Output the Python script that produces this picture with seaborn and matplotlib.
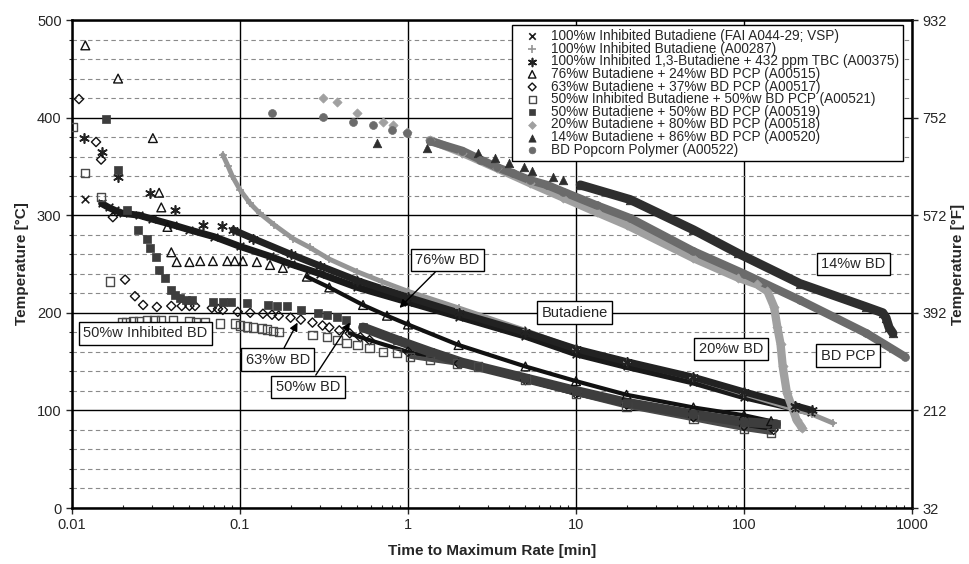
import matplotlib
matplotlib.use("Agg")
import matplotlib.pyplot as plt
import numpy as np
import seaborn as sns

# time to maximum rate [min] / temperature [degC]
vsp_x = [0.012, 0.015, 0.0165, 0.018, 0.02, 0.025, 0.03, 0.04, 0.05, 0.07, 0.1, 0.15, 0.2, 0.3,
         0.5, 1, 2, 5, 10, 20, 50, 100, 200, 250]
vsp_y = [317, 312, 308, 305, 302, 300, 296, 290, 285, 278, 268, 258, 250, 240,
         226, 211, 196, 176, 158, 145, 129, 114, 102, 98]

a287_x = [0.079, 0.085, 0.09, 0.1, 0.115, 0.131, 0.16, 0.207, 0.26, 0.34, 0.5, 0.7, 1, 2, 5, 10,
          20, 50, 100, 200, 254, 339]
a287_y = [362, 350, 340, 326, 312, 302, 290, 276, 267, 255, 242, 232, 222, 205, 182, 163,
          150, 133, 117, 101, 96, 87]

a375_x = [0.0118, 0.0151, 0.0188, 0.029, 0.041, 0.06, 0.078, 0.091, 0.12, 0.2, 0.3, 0.5, 1, 2, 5,
          10, 20, 50, 100, 200, 254]
a375_y = [379, 365, 339, 323, 305, 290, 289, 285, 276, 260, 248, 233, 216, 200, 180,
          163, 150, 134, 119, 105, 100]

a515_x = [0.012, 0.0188, 0.0303, 0.033, 0.034, 0.037, 0.039, 0.042, 0.05, 0.058, 0.069, 0.084,
          0.093, 0.104, 0.126, 0.151, 0.18, 0.25, 0.34, 0.54, 0.75, 1, 2, 5, 10, 20, 50, 100, 145]
a515_y = [474, 440, 379, 323, 308, 288, 262, 252, 252, 253, 253, 253,
          253, 253, 252, 249, 246, 237, 226, 208, 197, 188, 167, 145, 130, 116, 103, 95, 89]

a517_x = [0.011, 0.0139, 0.0149, 0.0175, 0.0207, 0.0237, 0.0265, 0.032, 0.039, 0.045, 0.05, 0.054,
          0.068, 0.074, 0.079, 0.097, 0.115, 0.137, 0.155, 0.17, 0.2, 0.23, 0.27, 0.31, 0.34, 0.39,
          0.45, 0.52, 0.59, 1, 2, 5, 10, 20, 50, 100, 150]
a517_y = [419, 375, 357, 298, 234, 217, 208, 206, 207, 207, 207, 207,
          205, 204, 203, 201, 200, 199, 198, 197, 195, 193, 190, 187, 185, 182,
          179, 175, 172, 160, 148, 131, 117, 106, 93, 84, 80]

a521_x = [0.0101, 0.012, 0.0149, 0.0168, 0.0198, 0.021, 0.023, 0.025, 0.028, 0.031, 0.034, 0.04,
          0.05, 0.055, 0.062, 0.076, 0.093, 0.1, 0.11, 0.12, 0.135, 0.145, 0.157, 0.17, 0.27, 0.33,
          0.38, 0.43, 0.5, 0.59, 0.71, 0.86, 1.03, 1.35, 1.95, 2.6, 5, 10, 20, 50, 100, 145]
a521_y = [390, 343, 319, 232, 190, 190, 191, 191, 192, 193, 193, 193,
          191, 190, 190, 189, 189, 187, 186, 185, 184, 183, 181, 180, 177, 175,
          172, 169, 167, 164, 160, 159, 155, 152, 148, 145, 131, 117, 104, 91, 81, 77]

a519_x = [0.016, 0.0188, 0.0213, 0.0247, 0.028, 0.029, 0.0316, 0.033, 0.036, 0.039, 0.041, 0.044,
          0.048, 0.052, 0.069, 0.079, 0.089, 0.11, 0.146, 0.166, 0.19, 0.23, 0.29, 0.33, 0.38,
          0.43, 0.54, 0.86, 1.35, 2.1, 5, 10, 20, 50, 100, 155]
a519_y = [399, 346, 305, 285, 276, 266, 257, 244, 236, 223, 218, 215,
          213, 213, 211, 211, 211, 210, 208, 207, 207, 203, 200, 198, 196,
          193, 185, 172, 160, 149, 133, 120, 108, 96, 88, 86]

a518_x = [0.312, 0.38, 0.5, 0.71, 0.81, 0.98, 1.35, 2.1, 3.4, 5.3, 8.4, 13.3, 20, 50, 92, 120,
          138, 151, 158, 165, 170, 180, 206, 222]
a518_y = [420, 416, 405, 395, 392, 385, 377, 364, 348, 333, 318, 303, 290, 256, 236, 229,
          222, 206, 185, 168, 145, 118, 90, 82]

a520_x = [0.65, 1.3, 2.61, 3.3, 4.0, 4.9, 5.5, 7.3, 8.4, 10.6, 21, 50, 92, 215, 536, 670, 700,
          730, 770]
a520_y = [374, 369, 364, 359, 353, 349, 345, 339, 336, 331, 316, 285, 261, 230, 206, 200, 195,
          185, 179]

a522_x = [0.155, 0.312, 0.47, 0.62, 0.8, 0.98, 1.35, 2.1, 2.7, 3.4, 4.2, 5.3, 6.7, 8.4, 13.3, 21,
          50, 100, 215, 536, 908]
a522_y = [405, 401, 396, 392, 387, 384, 376, 366, 357, 349, 343, 336, 331, 324, 310, 297,
          263, 240, 213, 179, 155]

labels = [
    "100%w Inhibited Butadiene (FAI A044-29; VSP)",
    "100%w Inhibited Butadiene (A00287)",
    "100%w Inhibited 1,3-Butadiene + 432 ppm TBC (A00375)",
    "76%w Butadiene + 24%w BD PCP (A00515)",
    "63%w Butadiene + 37%w BD PCP (A00517)",
    "50%w Inhibited Butadiene + 50%w BD PCP (A00521)",
    "50%w Butadiene + 50%w BD PCP (A00519)",
    "20%w Butadiene + 80%w BD PCP (A00518)",
    "14%w Butadiene + 86%w BD PCP (A00520)",
    "BD Popcorn Polymer (A00522)",
]

# marker, colour, hollow, size, where the marks run together, band width
styles = [
    ("x", "#1a1a1a", False, 30, 0.014, 5.0),
    ("+", "#959595", False, 40, 0.079, 3.5),
    ((6, 2, 0), "#222222", False, 45, 0.09, 5.0),
    ("^", "#111111", True, 40, 0.25, 3.0),
    ("D", "#111111", True, 22, 0.45, 3.0),
    ("s", "#4a4a4a", True, 35, 1.0, 3.0),
    ("s", "#3d3d3d", False, 35, 0.45, 7.0),
    ("D", "#a0a0a0", False, 22, 1.0, 6.0),
    ("^", "#2e2e2e", False, 38, 10.0, 6.5),
    ("o", "#6b6b6b", False, 32, 1.0, 6.0),
]

data = [(vsp_x, vsp_y), (a287_x, a287_y), (a375_x, a375_y), (a515_x, a515_y),
        (a517_x, a517_y), (a521_x, a521_y), (a519_x, a519_y), (a518_x, a518_y),
        (a520_x, a520_y), (a522_x, a522_y)]

sns.set_theme(style="white")
plt.rcParams["font.family"] = ["Liberation Sans", "DejaVu Sans"]

fig = plt.figure(figsize=(9.69, 5.64), dpi=100)
ax = fig.add_axes([72 / 969, 56 / 564, 840 / 969, 488 / 564])
ax.set_xscale("log")

for (xs, ys), label, (marker, color, hollow, size, dense, width) in zip(data, labels, styles):
    xs = np.array(xs)
    ys = np.array(ys)
    mask = xs >= dense
    sns.lineplot(x=xs[mask], y=ys[mask], ax=ax, color=color, lw=width, sort=False,
                 estimator=None, legend=False, zorder=2)
    if hollow:
        sns.scatterplot(x=xs, y=ys, ax=ax, marker=marker, s=size, facecolor="none",
                        edgecolor=color, linewidth=1.0, label=label, legend=False, zorder=3)
    elif marker in ("x", "+") or isinstance(marker, tuple):
        sns.scatterplot(x=xs, y=ys, ax=ax, marker=marker, s=size, color=color,
                        linewidth=1.2, label=label, legend=False, zorder=3)
    else:
        sns.scatterplot(x=xs, y=ys, ax=ax, marker=marker, s=size, color=color,
                        edgecolor=color, linewidth=0.5, label=label, legend=False, zorder=3)

ax.set_xlim(0.01, 1000)
ax.set_ylim(0, 500)
ax.set_xticks([0.01, 0.1, 1, 10, 100, 1000])
ax.set_xticklabels(["0.01", "0.1", "1", "10", "100", "1000"])
ax.set_yticks(np.arange(0, 501, 100))
ax.set_yticks(np.arange(0, 501, 20), minor=True)
ax.set_axisbelow(True)
ax.grid(which="major", color="black", lw=1.0, ls="-")
ax.grid(which="minor", axis="y", color="#8a8a8a", lw=0.8, ls=(0, (4, 3)))
ax.grid(which="minor", axis="x", visible=False)
ax.tick_params(axis="both", which="major", labelsize=10.5, length=4, width=1, direction="out",
               bottom=True, left=True)
ax.tick_params(axis="y", which="minor", length=2.5, width=0.8, direction="out", left=True)
ax.tick_params(axis="x", which="minor", length=2.5, width=0.8, direction="in", bottom=True)
for sp in ax.spines.values():
    sp.set_color("black")
    sp.set_linewidth(1.8)

ax.set_xlabel("Time to Maximum Rate [min]", fontsize=11, fontweight="bold", labelpad=8)
ax.set_ylabel("Temperature [°C]", fontsize=11, fontweight="bold", labelpad=6)

ax2 = ax.twinx()
ax2.set_ylim(32, 932)
ax2.set_yticks([32, 212, 392, 572, 752, 932])
ax2.tick_params(axis="y", labelsize=10.5, length=4, width=1, direction="out", right=True)
ax2.set_ylabel("Temperature [°F]", fontsize=11, fontweight="bold", labelpad=3)
for sp in ax2.spines.values():
    sp.set_visible(False)
ax2.grid(False)

leg = ax.legend(loc="upper right", bbox_to_anchor=(0.989, 0.99), borderaxespad=0,
                fontsize=9.8, labelspacing=-0.1, handlelength=2.3, handletextpad=0.2,
                borderpad=0.3, fancybox=False, framealpha=1, edgecolor="black",
                markerscale=0.85)
leg.get_frame().set_linewidth(1.0)

box = dict(boxstyle="square,pad=0.3", fc="white", ec="black", lw=1)
arrow = dict(arrowstyle="-|>", color="black", lw=1, mutation_scale=12, shrinkA=0, shrinkB=0)
ax.annotate("76%w BD", xy=(0.89, 205), xytext=(1.71, 254), ha="center", va="center",
            fontsize=10.5, bbox=box, arrowprops=arrow, zorder=5)
ax.annotate("63%w BD", xy=(0.22, 190), xytext=(0.168, 152), ha="center", va="center",
            fontsize=10.5, bbox=box, arrowprops=arrow, zorder=5)
ax.annotate("50%w BD", xy=(0.452, 190), xytext=(0.254, 124), ha="center", va="center",
            fontsize=10.5, bbox=box, arrowprops=arrow, zorder=5)
for text, tx, ty in [("Butadiene", 9.86, 200), ("50%w Inhibited BD", 0.0272, 179),
                     ("20%w BD", 83.7, 163), ("BD PCP", 416, 156), ("14%w BD", 446, 250)]:
    ax.text(tx, ty, text, ha="center", va="center", fontsize=10.5, bbox=box, zorder=5)

fig.savefig("out.png", dpi=100)
